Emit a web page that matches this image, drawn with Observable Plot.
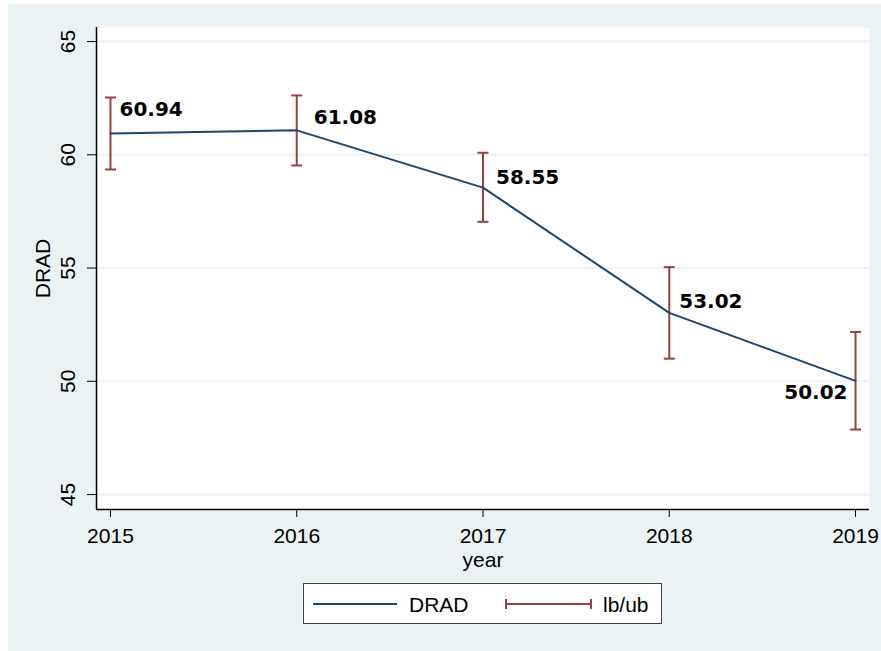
<!DOCTYPE html>
<html>
<head>
<meta charset="utf-8">
<script src="https://cdn.jsdelivr.net/npm/d3@7"></script>
<script src="https://cdn.jsdelivr.net/npm/@observablehq/plot@0.6"></script>
<style>
  html, body { margin: 0; padding: 0; background: #ffffff; }
  #panel {
    position: absolute; left: 8px; top: 4px; width: 873px; height: 647px;
    background: #eaf2f3; font-family: "Liberation Sans", Arial, sans-serif;
  }
  #chart { position: absolute; left: 0; top: 0; }
  #legend {
    position: absolute; left: 295px; top: 579px; width: 357px; height: 39px;
    background: #ffffff; border: 1px solid #404040;
  }
</style>
</head>
<body>
<div id="panel">
  <div id="chart"></div>
  <div id="legend"></div>
</div>
<script>
// Yearly DRAD estimate with lower / upper bounds
const years = [2015, 2016, 2017, 2018, 2019];
const drad = [60.94, 61.08, 58.55, 53.02, 50.02];
const lb = [59.35, 59.53, 57.04, 51.0, 47.87];
const ub = [62.53, 62.62, 60.09, 55.04, 52.18];
const yTicks = [45, 50, 55, 60, 65];
const xTickYears = years;

const lineColor = "#1a476f";
const barColor = "#9a3f46";
const gridColor = "#eaf2f3";
const axisFont = "Liberation Sans, Arial, sans-serif";

const rows = years.map((year, i) => ({year, drad: drad[i], lb: lb[i], ub: ub[i]}));

// horizontal cap drawn at each end of a bound bar
const cap = {draw(context) { context.moveTo(-5.5, 0); context.lineTo(5.5, 0); }};

const xDomain = [2014.925, 2019.075];
const yDomain = [44.34, 65.62];

// label placement per point (pixels)
const labelPos = {
  2015: {dx: 9, dy: -24, anchor: "start"},
  2016: {dx: 17, dy: -13, anchor: "start"},
  2017: {dx: 13, dy: -10, anchor: "start"},
  2018: {dx: 10, dy: -11, anchor: "start"},
  2019: {dx: -8, dy: 12, anchor: "end"}
};

const labelMarks = rows.map(r => Plot.text([r], {
  x: "year", y: "drad", text: d => d3.format(".2f")(d.drad),
  dx: labelPos[r.year].dx, dy: labelPos[r.year].dy,
  textAnchor: labelPos[r.year].anchor,
  fontFamily: "DejaVu Sans", fontWeight: "bold", fontSize: 20, fill: "#000"
}));

const chart = Plot.plot({
  width: 873,
  height: 571,
  marginLeft: 88,
  marginTop: 23,
  marginRight: 12,
  marginBottom: 66,
  style: {background: "none", fontFamily: axisFont, overflow: "visible"},
  x: {domain: xDomain},
  y: {domain: yDomain},
  marks: [
    Plot.frame({fill: "white", stroke: "none"}),
    Plot.ruleY(yTicks, {stroke: gridColor, strokeWidth: 2}),
    Plot.ruleX([xDomain[0]], {stroke: "#000", strokeWidth: 1.5}),
    Plot.ruleY([yDomain[0]], {stroke: "#000", strokeWidth: 1.5}),
    Plot.axisY({ticks: yTicks, tickSize: 9, tickFormat: () => "", label: null, stroke: "#000"}),
    Plot.text(yTicks, {
      y: d => d, text: d => String(d), frameAnchor: "left", dx: -28,
      rotate: -90, textAnchor: "middle", lineAnchor: "middle",
      fontSize: 21, fill: "#000"
    }),
    Plot.text(["DRAD"], {
      frameAnchor: "left", dx: -53, rotate: -90, textAnchor: "middle",
      lineAnchor: "middle", fontSize: 21, fill: "#000"
    }),
    Plot.axisX({
      ticks: xTickYears, tickFormat: "d", tickSize: 8, tickPadding: 11,
      fontSize: 21, label: null, stroke: "#000", fill: "#000"
    }),
    Plot.text(["year"], {
      frameAnchor: "bottom", dy: 51, textAnchor: "middle", lineAnchor: "middle",
      fontSize: 21, fill: "#000"
    }),
    Plot.ruleX(rows, {x: "year", y1: "lb", y2: "ub", stroke: barColor, strokeWidth: 2}),
    Plot.dot(rows, {x: "year", y: "lb", symbol: cap, stroke: barColor, strokeWidth: 2}),
    Plot.dot(rows, {x: "year", y: "ub", symbol: cap, stroke: barColor, strokeWidth: 2}),
    Plot.line(rows, {x: "year", y: "drad", stroke: lineColor, strokeWidth: 2}),
    ...labelMarks
  ]
});
document.getElementById("chart").appendChild(chart);

// key for the two series
const legendSvg = d3.select("#legend").append("svg")
  .attr("width", 357).attr("height", 39)
  .style("font-family", axisFont);
legendSvg.append("line").attr("x1", 9).attr("x2", 93).attr("y1", 20).attr("y2", 20)
  .attr("stroke", lineColor).attr("stroke-width", 2);
legendSvg.append("text").attr("x", 105).attr("y", 20).attr("dy", "0.36em")
  .attr("font-size", 21).attr("fill", "#000").text("DRAD");
legendSvg.append("line").attr("x1", 202).attr("x2", 287).attr("y1", 20).attr("y2", 20)
  .attr("stroke", barColor).attr("stroke-width", 2);
[202, 287].forEach(x => legendSvg.append("line")
  .attr("x1", x).attr("x2", x).attr("y1", 15).attr("y2", 25)
  .attr("stroke", barColor).attr("stroke-width", 2));
legendSvg.append("text").attr("x", 299).attr("y", 20).attr("dy", "0.36em")
  .attr("font-size", 21).attr("fill", "#000").text("lb/ub");
</script>
</body>
</html>
